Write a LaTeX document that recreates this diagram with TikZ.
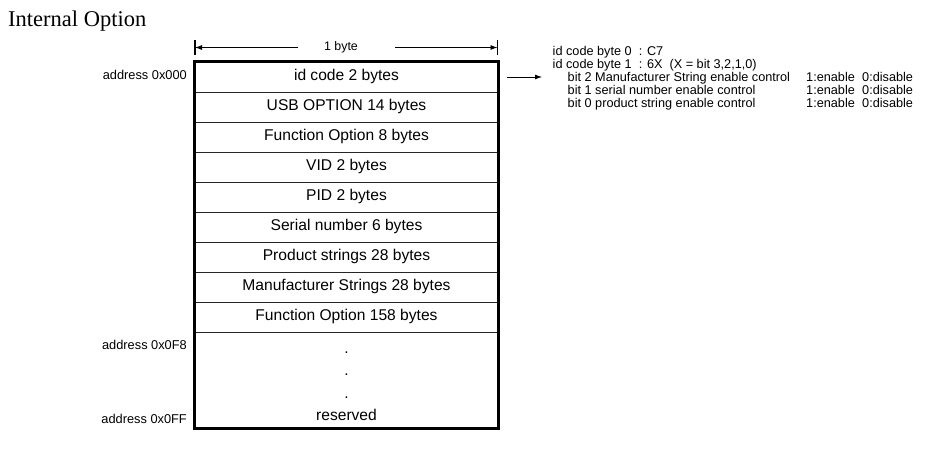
\documentclass[tikz,border=0pt]{standalone}
\usepackage{fontspec}
\setmainfont{Liberation Sans}
\newfontfamily\titlefont{Liberation Serif}
\usetikzlibrary{arrows.meta}
\begin{document}
\begin{tikzpicture}[x=1pt,y=-1pt,
  cell/.style={draw=black!85, line width=0.8pt, minimum width=303pt, minimum height=30pt,
    inner sep=0pt, font=\fontsize{15.6}{18}\selectfont, text height=0.9em, text depth=0.14em},
  small/.style={font=\fontsize{12.7}{14}\selectfont, inner sep=0pt, anchor=base west},
  addr/.style={font=\fontsize{12.8}{14}\selectfont, inner sep=0pt, anchor=base east},
  big/.style={font=\fontsize{15.6}{18}\selectfont, inner sep=0pt, anchor=base},
  thinarrow/.style={line width=0.8pt, -{Latex[length=7pt,width=5pt]}},
  barline/.style={line width=1.2pt}
]
\useasboundingbox (0,0) rectangle (933,459);

% title
\node[anchor=base west, inner sep=0pt, font=\titlefont\fontsize{22.5}{26}\selectfont] (title) at (8,26) {Internal Option};

% rows
\foreach \t [count=\i from 0] in {id code 2 bytes, USB OPTION 14 bytes, Function Option 8 bytes,
  VID 2 bytes, PID 2 bytes, Serial number 6 bytes, Product strings 28 bytes,
  Manufacturer Strings 28 bytes, Function Option 158 bytes}
  \node[cell] (r\i) at (346.5, 77+30*\i) {\t};
\node[cell, minimum height=96pt] (r9) at (346.5,380) {};
\node[big] (d1) at (346.5,353.5) {.};
\node[big] (d2) at (346.5,375.5) {.};
\node[big] (d3) at (346.5,398) {.};
\node[big] (res) at (346.5,420) {reserved};

% outer frame
\draw[line width=3pt] (r0.north west) rectangle (r9.south east);

% addresses
\node[addr] (a0) at (187,79.5) {address 0x000};
\node[addr] (a1) at (187,349.5) {address 0x0F8};
\node[addr] (a2) at (187,423.5) {address 0x0FF};

% dimension
\node[font=\fontsize{12.4}{14}\selectfont, inner sep=0pt] (byte) at (341,47.5) {1 byte};
\coordinate (dimL) at (195,47.5);
\coordinate (dimR) at (497.5,47.5);
\coordinate (dimLa) at (298,47.5);
\coordinate (dimRa) at (395,47.5);
\draw[thinarrow] (dimLa) -- (dimL);
\draw[thinarrow] (dimRa) -- (dimR);
\draw[barline] ([yshift=-7.5pt]dimL) -- ([yshift=7.5pt]dimL);
\draw[barline] ([yshift=-7.5pt]dimR) -- ([yshift=7.5pt]dimR);

% description
\node[small] (l1) at (552.5,55.5) {id code byte 0\hspace{7pt}: C7};
\node[small] (l2) at (552.5,68.5) {id code byte 1\hspace{7pt}: 6X\hspace{7pt}(X = bit 3,2,1,0)};
\node[small] (l3) at (567.5,81.5) {bit 2 Manufacturer String enable control};
\node[small] (l4) at (567.5,94.5) {bit 1 serial number enable control};
\node[small] (l5) at (567.5,107.5) {bit 0 product string enable control};
\node[small] (e3) at (806,81.5) {1:enable};
\node[small] (e4) at (806,94.5) {1:enable};
\node[small] (e5) at (806,107.5) {1:enable};
\node[small] (x3) at (862,81.5) {0:disable};
\node[small] (x4) at (862,94.5) {0:disable};
\node[small] (x5) at (862,107.5) {0:disable};

% pointer arrow
\coordinate (arrE) at (542,77);
\draw[thinarrow] ([xshift=9pt]r0.east) -- (arrE);
\end{tikzpicture}
\end{document}
